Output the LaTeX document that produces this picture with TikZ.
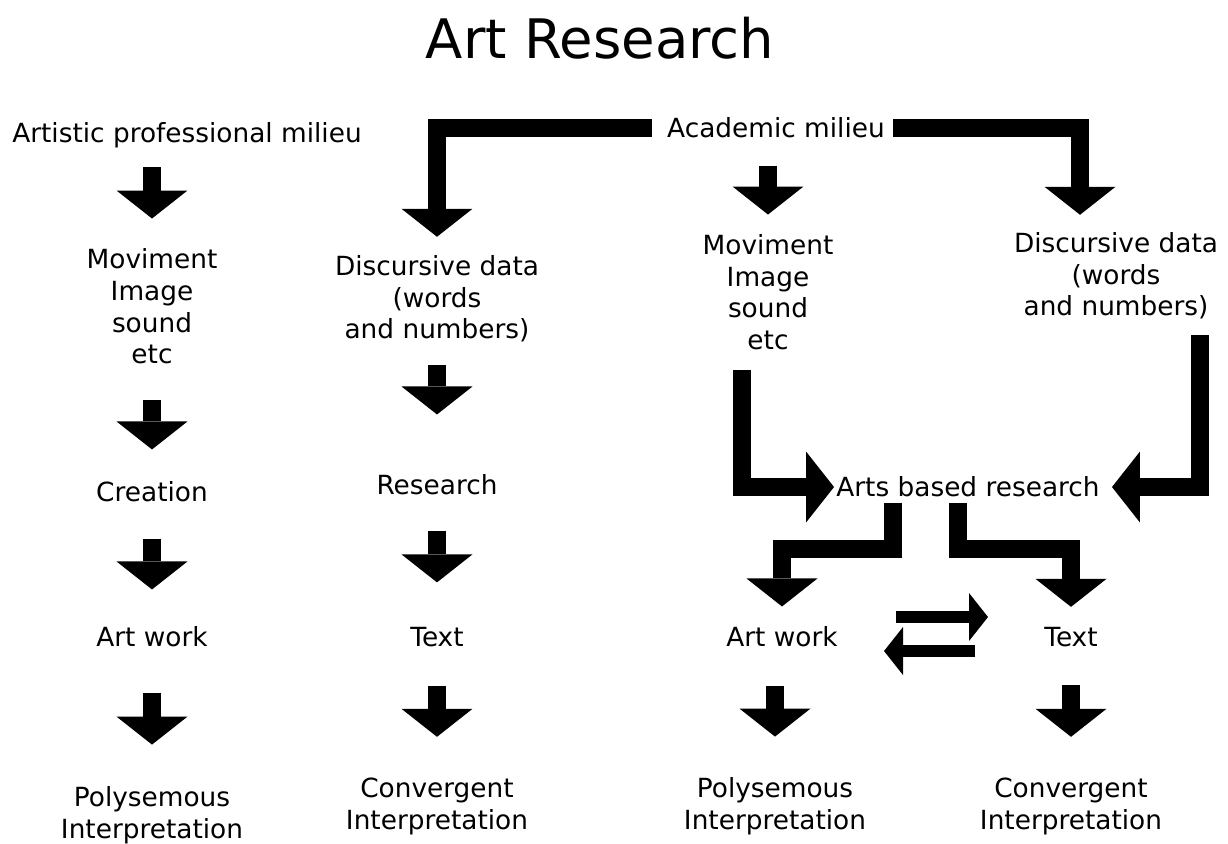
\documentclass[tikz,border=0pt]{standalone}
\usepackage{fontspec}
\setmainfont{DejaVu Sans}
\usetikzlibrary{arrows.meta}

\tikzset{
  fat/.style={line width=0.36cm, line join=miter, -{Triangle[width=1.42cm,length=0.56cm,line width=0pt]}},
  slim/.style={line width=0.24cm, -{Triangle[width=0.96cm,length=0.38cm,line width=0pt]}},
  lbl/.style={font=\fontsize{15}{18}\selectfont, align=center, inner sep=0pt},
}

\begin{document}
\begin{tikzpicture}[x=0.02cm, y=-0.02cm, line cap=butt, line join=miter]
    \useasboundingbox (0,0) rectangle (1228,843);
    \draw (600,38) node[font=\fontsize{31}{36}\selectfont, inner sep=0pt] (title) {Art Research};
    % the two milieus
    \draw (187,135) node[lbl] (apm) {Artistic professional milieu};
    \draw (776,128) node[lbl] (acm) {Academic milieu};
    % first column
    \draw (152,306.5) node[lbl] (mov1) {Moviment\\Image\\sound\\etc};
    \draw (152,492) node[lbl] (creation) {Creation};
    \draw (152,637) node[lbl] (artwork1) {Art work};
    \draw (152,815) node[lbl] (poly1) {Polysemous\\Interpretation};
    % second column
    \draw (437,299) node[lbl] (dis2) {Discursive data\\(words\\and numbers)};
    \draw (437,485) node[lbl] (research) {Research};
    \draw (437,637) node[lbl] (text2) {Text};
    \draw (437,806.5) node[lbl] (conv2) {Convergent\\Interpretation};
    % arts based research
    \draw (768,292) node[lbl] (mov3) {Moviment\\Image\\sound\\etc};
    \draw (1116,276) node[lbl] (dis4) {Discursive data\\(words\\and numbers)};
    \draw (968,487) node[lbl] (arts) {Arts based research};
    \draw (782,637) node[lbl] (artwork3) {Art work};
    \draw (1071,637) node[lbl] (text4) {Text};
    \draw (775,806.5) node[lbl] (poly3) {Polysemous\\Interpretation};
    \draw (1071,806.5) node[lbl] (conv4) {Convergent\\Interpretation};

    \draw[fat, shorten <=0.38cm, shorten >=0.60cm] (apm.south -| mov1.north) -- (mov1.north);
    \draw[fat, shorten <=0.72cm, shorten >=0.64cm] (mov1.south) -- (creation.north);
    \draw[fat, shorten <=0.72cm, shorten >=0.74cm] (creation.south) -- (artwork1.north);
    \draw[fat, shorten <=0.90cm, shorten >=0.83cm] (artwork1.south) -- (poly1.north);

    \draw[fat, shorten <=0.45cm, shorten >=1.20cm] (dis2.south) -- (research.north);
    \draw[fat, shorten <=0.70cm, shorten >=0.89cm] (research.south) -- (text2.north);
    \draw[fat, shorten <=0.77cm, shorten >=0.82cm] (text2.south) -- (conv2.north);

    \draw[fat, shorten <=0.30cm, shorten >=0.37cm] (acm.west) -| (dis2.north);
    \draw[fat, shorten <=0.16cm, shorten >=0.35cm] (acm.east) -| ([xshift=-0.72cm]dis4.north);
    \draw[fat, shorten <=0.54cm, shorten >=0.39cm] (acm.south -| mov3.north) -- (mov3.north);

    \draw[fat, shorten <=0.40cm, shorten >=0.04cm] ([xshift=-0.52cm]mov3.south) |- (arts.west);
    \draw[fat, shorten <=0.31cm, shorten >=0.24cm] ([xshift=1.68cm]dis4.south) |- (arts.east);
    \draw[fat, shorten <=0.10cm, shorten >=0.40cm] ([xshift=-1.5cm]arts.south) -- ++(0,51) -| (artwork3.north);
    \draw[fat, shorten <=0.10cm, shorten >=0.40cm] ([xshift=-0.2cm]arts.south) -- ++(0,51) -| (text4.north);

    \draw[slim, shorten <=1.16cm, shorten >=1.12cm] ([yshift=0.4cm]artwork3.east) -- ([yshift=0.4cm]text4.west);
    \draw[slim, shorten <=1.38cm, shorten >=0.92cm] ([yshift=-0.28cm]text4.west) -- ([yshift=-0.28cm]artwork3.east);

    \draw[fat, shorten <=0.76cm, shorten >=0.82cm] (artwork3.south -| poly3.north) -- (poly3.north);
    \draw[fat, shorten <=0.76cm, shorten >=0.82cm] (text4.south) -- (conv4.north);
\end{tikzpicture}
\end{document}
